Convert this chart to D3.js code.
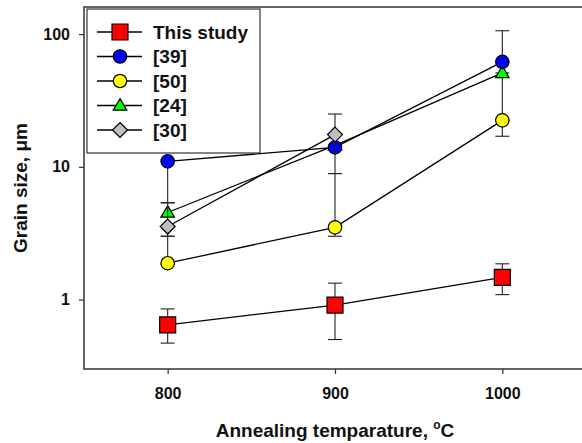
<!DOCTYPE html>
<html>
<head>
<meta charset="utf-8">
<script src="https://cdn.jsdelivr.net/npm/d3@7"></script>
<style>
  body { margin: 0; background: #fff; }
  text { font-family: Arial, 'Liberation Sans', sans-serif; font-weight: bold; fill: #111; }
</style>
</head>
<body>
<svg id="chart" width="582" height="443"></svg>
<script>
'use strict';

// annealing temperatures (x)
const temps = [800, 900, 1000];
const xTicks = [800, 900, 1000];
const yTicks = [1, 10, 100];

// grain size, um (null = no point)
const thisStudy = [0.645, 0.91, 1.47];
const ref39 = [11.0, 14.0, 61.8];
const ref50 = [1.88, 3.5, 22.4];
const ref24 = [4.53, 14.5, 51];
const ref30 = [3.55, 17.5, null];

// error bars [low, high] (null = none)
const errThisStudy = [[0.47, 0.85], [0.50, 1.33], [1.09, 1.86]];
const err39 = [[5.36, 11.0], null, [61.8, 106]];
const err50 = [[1.85, 3.0], [3.0, 8.9], [17, 22.4]];
const err24 = [null, null, [22.4, 51]];
const err30 = [[3.0, 5.36], [8.9, 25], null];

const labels = ['This study', '[39]', '[50]', '[24]', '[30]'];

const series = [
  { name: '[24]', values: ref24, err: err24, shape: 'triangle', fill: '#00ff00' },
  { name: '[50]', values: ref50, err: err50, shape: 'circle', fill: '#ffff00' },
  { name: '[39]', values: ref39, err: err39, shape: 'circle', fill: '#0000ff' },
  { name: '[30]', values: ref30, err: err30, shape: 'diamond', fill: '#c0c0c0' },
  { name: 'This study', values: thisStudy, err: errThisStudy, shape: 'square', fill: '#ff0000' },
];

const svg = d3.select('#chart');

const plot = { left: 84, top: 7, right: 586, bottom: 369 };

const x = d3.scaleLinear().domain([750, 1050]).range([plot.left, plot.right]);
const y = d3.scaleLog().domain([0.3, 160]).range([plot.bottom, plot.top]);

// square rotated 45 deg, half-diagonal ~7.5
const diamondType = {
  draw(ctx, size) {
    const r = Math.sqrt(size / 2);
    ctx.moveTo(0, -r);
    ctx.lineTo(r, 0);
    ctx.lineTo(0, r);
    ctx.lineTo(-r, 0);
    ctx.closePath();
  },
};

// flat triangle, a bit wider than tall
const triangleType = {
  draw(ctx, size) {
    const w = Math.sqrt(size * 2.3);
    const h = w * 0.85;
    ctx.moveTo(0, -h * 0.6);
    ctx.lineTo(w / 2, h * 0.4);
    ctx.lineTo(-w / 2, h * 0.4);
    ctx.closePath();
  },
};

const symbols = {
  circle: d3.symbol().type(d3.symbolCircle).size(Math.PI * 6.7 * 6.7),
  square: d3.symbol().type(d3.symbolSquare).size(16 * 16),
  triangle: d3.symbol().type(triangleType).size(80),
  diamond: d3.symbol().type(diamondType).size(112),
};

// axes
const xAxis = d3.axisBottom(x)
  .tickValues(xTicks)
  .tickSize(5)
  .tickPadding(14)
  .tickFormat(d3.format('d'));

const yAxis = d3.axisLeft(y)
  .tickValues(yTicks)
  .tickSize(5)
  .tickPadding(9)
  .tickFormat(d3.format('d'));

const gx = svg.append('g')
  .attr('transform', `translate(0, ${plot.bottom})`)
  .call(xAxis);

const gy = svg.append('g')
  .attr('transform', `translate(${plot.left}, 0)`)
  .call(yAxis);

[gx, gy].forEach(g => {
  g.select('.domain').remove();
  g.selectAll('line').attr('stroke', '#333').attr('stroke-width', 1.2);
  g.selectAll('text')
    .attr('fill', '#111')
    .style('font-size', '16px')
    .style('font-weight', 'bold')
    .style('font-family', 'Arial, "Liberation Sans", sans-serif');
});

// frame
svg.append('rect')
  .attr('x', plot.left)
  .attr('y', plot.top)
  .attr('width', plot.right - plot.left)
  .attr('height', plot.bottom - plot.top)
  .attr('fill', 'none')
  .attr('stroke', '#333')
  .attr('stroke-width', 1.5);

// axis titles
const xTitle = svg.append('text')
  .attr('x', 335)
  .attr('y', 437)
  .attr('text-anchor', 'middle')
  .style('font-size', '19px');

xTitle.append('tspan').text('Annealing temparature, ');
xTitle.append('tspan').attr('dy', -8).style('font-size', '12px').text('o');
xTitle.append('tspan').attr('dy', 8).text('C');

svg.append('text')
  .attr('transform', 'translate(27, 188) rotate(-90)')
  .attr('text-anchor', 'middle')
  .style('font-size', '19px')
  .text('Grain size, \u03bcm');

// data
const line = d3.line()
  .defined(d => d.v != null)
  .x(d => x(d.t))
  .y(d => y(d.v));

const layer = svg.append('g');

series.forEach(s => {
  const pts = temps.map((t, i) => ({ t: t, v: s.values[i], e: s.err[i] }));

  layer.append('path')
    .datum(pts)
    .attr('d', line)
    .attr('fill', 'none')
    .attr('stroke', '#000')
    .attr('stroke-width', 1.3);

  const errs = pts.filter(d => d.e != null);
  const eg = layer.selectAll(null)
    .data(errs)
    .enter()
    .append('g')
    .attr('stroke', '#222')
    .attr('stroke-width', 1.1);

  eg.append('line')
    .attr('x1', d => x(d.t)).attr('x2', d => x(d.t))
    .attr('y1', d => y(d.e[0])).attr('y2', d => y(d.e[1]));

  eg.append('line')
    .attr('x1', d => x(d.t) - 7).attr('x2', d => x(d.t) + 7)
    .attr('y1', d => y(d.e[0])).attr('y2', d => y(d.e[0]));

  eg.append('line')
    .attr('x1', d => x(d.t) - 7).attr('x2', d => x(d.t) + 7)
    .attr('y1', d => y(d.e[1])).attr('y2', d => y(d.e[1]));

  layer.selectAll(null)
    .data(pts.filter(d => d.v != null))
    .enter()
    .append('path')
    .attr('d', symbols[s.shape])
    .attr('transform', d => `translate(${x(d.t)}, ${y(d.v)})`)
    .attr('fill', s.fill)
    .attr('stroke', '#000')
    .attr('stroke-width', 1.2);
});

// legend
const legend = svg.append('g');

legend.append('rect')
  .attr('x', 87)
  .attr('y', 9)
  .attr('width', 173)
  .attr('height', 144)
  .attr('fill', '#fff')
  .attr('stroke', '#333')
  .attr('stroke-width', 1.2);

const rows = legend.selectAll('.row')
  .data(labels)
  .enter()
  .append('g')
  .attr('class', 'row')
  .attr('transform', (d, i) => `translate(0, ${32 + i * 24.5})`);

rows.append('line')
  .attr('x1', 97).attr('x2', 142)
  .attr('stroke', '#000')
  .attr('stroke-width', 1.3);

rows.append('path')
  .attr('d', d => symbols[series.find(q => q.name === d).shape]())
  .attr('transform', 'translate(120, 0)')
  .attr('fill', d => series.find(q => q.name === d).fill)
  .attr('stroke', '#000')
  .attr('stroke-width', 1.2);

rows.append('text')
  .attr('x', 153)
  .attr('dy', '0.36em')
  .style('font-size', '19px')
  .text(d => d);
</script>
</body>
</html>
